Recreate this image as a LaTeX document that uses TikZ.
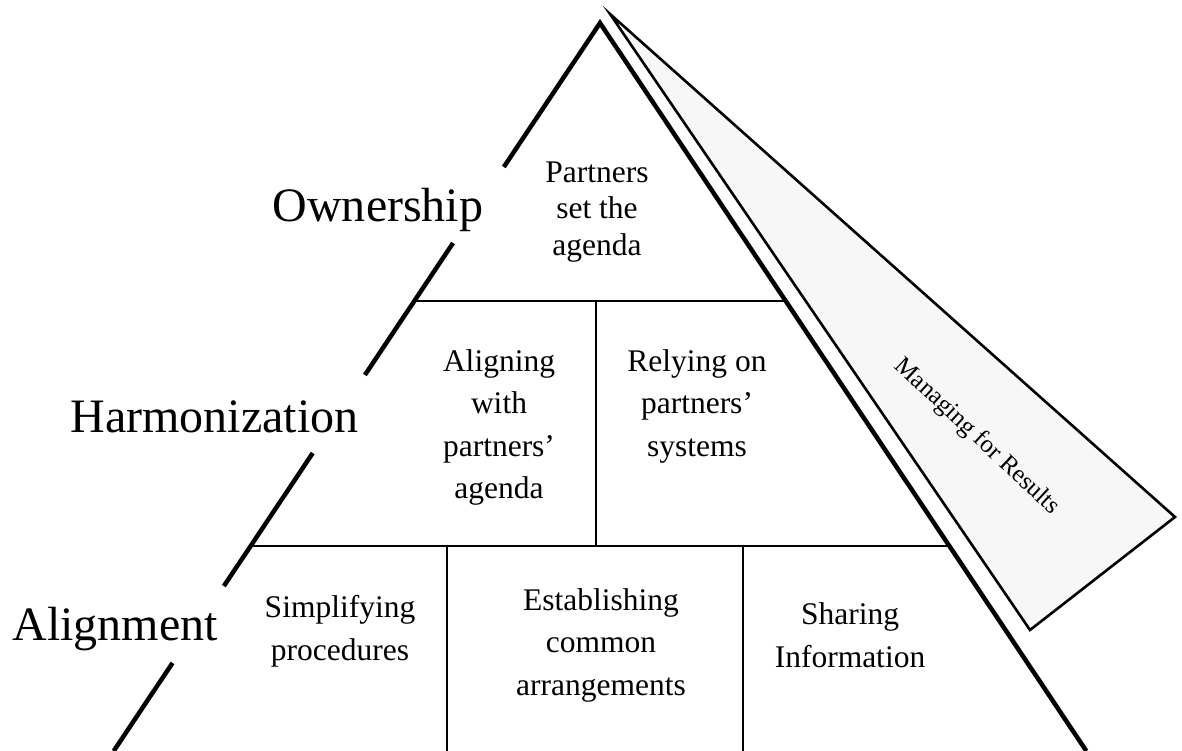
\documentclass[tikz,border=0pt]{standalone}
\usepackage{fontspec}
\setmainfont{Liberation Serif}
\usetikzlibrary{calc}
\begin{document}
\begin{tikzpicture}[x=1pt,y=-1pt,
  side/.style={line width=4.5pt, line join=miter},
  divider/.style={line width=1.8pt},
  wedge/.style={line width=2.6pt, fill=black!3, line join=miter},
  level/.style={font=\fontsize{48}{58}\selectfont, anchor=base, inner sep=0pt},
  cell/.style={font=\fontsize{31.5}{42.5}\selectfont, align=center, anchor=base, inner sep=0pt},
  topcell/.style={font=\fontsize{31.5}{36.5}\selectfont, align=center, anchor=base, inner sep=0pt},
  mfr/.style={font=\fontsize{25}{30}\selectfont, rotate=-43, inner sep=0pt}]
\useasboundingbox (0,0) rectangle (1182,751);
% frame of the pyramid
\coordinate (apex) at (600,23);
\coordinate (bl) at (113.7,751);
\coordinate (br) at (1086.3,751);
% side band (Managing for Results)
\coordinate (w1) at (610,14);
\coordinate (w2) at (1175,517);
\coordinate (w3) at (1030,630);
\draw[wedge] (w1) -- (w2) -- (w3) -- cycle;
% broken left side
\coordinate (l1) at ($(apex)!0.1978!(bl)$);
\coordinate (l2) at ($(apex)!0.3022!(bl)$);
\coordinate (l3) at ($(apex)!0.4835!(bl)$);
\coordinate (l4) at ($(apex)!0.5907!(bl)$);
\coordinate (l5) at ($(apex)!0.7734!(bl)$);
\coordinate (l6) at ($(apex)!0.8791!(bl)$);
\draw[side] (l1) -- (apex) -- (br);
\draw[side] (l2) -- (l3);
\draw[side] (l4) -- (l5);
\draw[side] (l6) -- (bl);
% tiers
\coordinate (h1l) at ($(apex)!0.3819!(bl)$);
\coordinate (h1r) at ($(apex)!0.3819!(br)$);
\coordinate (h2l) at ($(apex)!0.7184!(bl)$);
\coordinate (h2r) at ($(apex)!0.7184!(br)$);
\draw[divider] (h1l) -- (h1r);
\draw[divider] (h2l) -- (h2r);
\coordinate (v1t) at (596,301);
\coordinate (v1b) at (596,546);
\coordinate (v2t) at (447,546);
\coordinate (v2b) at (447,751);
\coordinate (v3t) at (743,546);
\coordinate (v3b) at (743,751);
\draw[divider] (v1t) -- (v1b);
\draw[divider] (v2t) -- (v2b);
\draw[divider] (v3t) -- (v3b);
% level labels
\node[level] (own) at (378,222) {Ownership};
\node[level] (harm) at (214.5,432) {Harmonization};
\node[level] (align) at (115,640) {Alignment};
% cells (anchored at the baseline of their last line)
\node[topcell] (partners) at (597,255) {Partners\\set the\\agenda};
\node[cell] (aligning) at (499,498.5) {Aligning\\with\\partners’\\agenda};
\node[cell] (relying) at (697,456) {Relying on\\partners’\\systems};
\node[cell] (simpl) at (340,660) {Simplifying\\procedures};
\node[cell] (estab) at (601,695) {Establishing\\common\\arrangements};
\node[cell] (sharing) at (850,667) {Sharing\\Information};
% side band label
\node[mfr] (mfrl) at (977,437) {Managing for Results};
\end{tikzpicture}
\end{document}
